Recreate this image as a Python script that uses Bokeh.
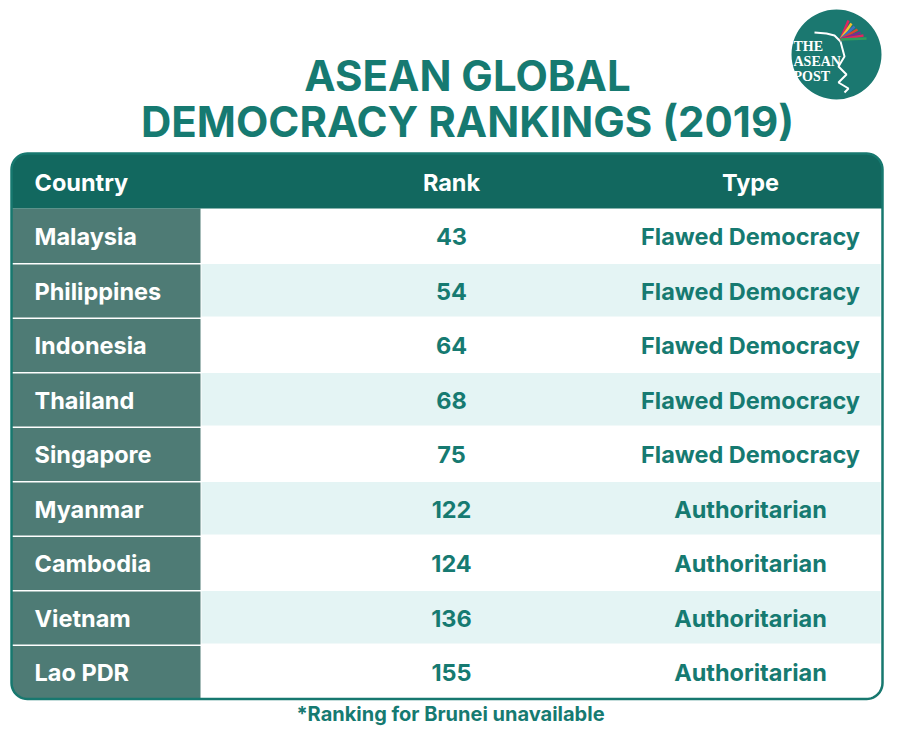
import numpy as np
from bokeh.plotting import figure
from bokeh.models import Range1d
from bokeh.core.properties import value
from bokeh.embed import file_html
from bokeh.resources import INLINE

# ---- data ----
title_lines = ["ASEAN GLOBAL", "DEMOCRACY RANKINGS (2019)"]
headers = ["Country", "Rank", "Type"]
countries = ["Malaysia", "Philippines", "Indonesia", "Thailand", "Singapore",
             "Myanmar", "Cambodia", "Vietnam", "Lao PDR"]
ranks = [43, 54, 64, 68, 75, 122, 124, 136, 155]
types = ["Flawed Democracy", "Flawed Democracy", "Flawed Democracy", "Flawed Democracy",
         "Flawed Democracy", "Authoritarian", "Authoritarian", "Authoritarian", "Authoritarian"]
footnote = "*Ranking for Brunei unavailable"
logo_lines = ["THE", "ASEAN", "POST"]

# ---- style ----
FONT = value("Inter")
DARK = "#12685f"
COUNTRY_BG = "#4e7b75"
TEAL = "#167a71"
LIGHT = "#e4f4f4"
BORDER = "#17786f"

W, H = 884, 730
p = figure(width=W, height=H, output_backend="svg", toolbar_location=None,
           x_range=Range1d(0, W), y_range=Range1d(H, 0), min_border=0)
p.axis.visible = False
p.grid.visible = False
p.outline_line_color = None
p.background_fill_color = "white"
p.border_fill_color = "white"

# table geometry
X0, X1 = 11, 882
TOP, HEAD_H = 153, 55
ROW_H = 54.5
n = len(countries)
BOT = TOP + HEAD_H + n * ROW_H
COL_SPLIT = 200
R = 16


def rounded(x0, x1, y0, y1, r, tl=0, tr=0, br=0, bl=0):
    # y grows downward (inverted range)
    xs, ys = [], []
    def arc(cx, cy, a0, a1, rr):
        t = np.linspace(np.radians(a0), np.radians(a1), 12)
        xs.extend(cx + rr * np.cos(t)); ys.extend(cy + rr * np.sin(t))
    if tl: arc(x0 + r, y0 + r, 180, 270, r)
    else: xs.append(x0); ys.append(y0)
    if tr: arc(x1 - r, y0 + r, 270, 360, r)
    else: xs.append(x1); ys.append(y0)
    if br: arc(x1 - r, y1 - r, 0, 90, r)
    else: xs.append(x1); ys.append(y1)
    if bl: arc(x0 + r, y1 - r, 90, 180, r)
    else: xs.append(x0); ys.append(y1)
    return list(xs), list(ys)

# white table body
bx, by = rounded(X0, X1, TOP, BOT, R, 1, 1, 1, 1)
p.patch(bx, by, fill_color="white", line_color=None)

# striped rows
for i in range(n):
    y0 = TOP + HEAD_H + i * ROW_H
    if i % 2 == 1:
        p.quad(left=COL_SPLIT + 1, right=X1 - 2, top=y0 + 1, bottom=y0 + ROW_H - 1,
               fill_color=LIGHT, line_color=None)

# country column
for i in range(n):
    y0 = TOP + HEAD_H + i * ROW_H
    last = i == n - 1
    cx, cy = rounded(X0, COL_SPLIT, y0 + (1.5 if i > 0 else 0), y0 + ROW_H, R, bl=1 if last else 0)
    p.patch(cx, cy, fill_color=COUNTRY_BG, line_color=None)

# header
hx, hy = rounded(X0, X1, TOP, TOP + HEAD_H, R, tl=1, tr=1)
p.patch(hx, hy, fill_color=DARK, line_color=None)

# border
p.patch(bx, by, fill_color=None, line_color=BORDER, line_width=2.5)

FS = "23.5px"
# header texts
hy_c = TOP + HEAD_H / 2 + 1
p.text(x=[34], y=[hy_c], text=[headers[0]], text_font=FONT, text_font_style="bold",
       text_font_size=FS, text_color="white", text_align="left", text_baseline="middle")
p.text(x=[451, 750], y=[hy_c, hy_c], text=headers[1:], text_font=FONT, text_font_style="bold",
       text_font_size=FS, text_color="white", text_align="center", text_baseline="middle")

# row texts
ys = [TOP + HEAD_H + (i + 0.5) * ROW_H + 1 for i in range(n)]
p.text(x=[34] * n, y=ys, text=countries, text_font=FONT, text_font_style="bold",
       text_font_size=FS, text_color="white", text_align="left", text_baseline="middle")
p.text(x=[451] * n, y=ys, text=[str(r) for r in ranks], text_font=FONT, text_font_style="bold",
       text_font_size=FS, text_color=TEAL, text_align="center", text_baseline="middle")
p.text(x=[750] * n, y=ys, text=types, text_font=FONT, text_font_style="bold",
       text_font_size=FS, text_color=TEAL, text_align="center", text_baseline="middle")

# title
p.text(x=[467, 467], y=[75, 121], text=title_lines, text_font=FONT, text_font_style="bold",
       text_font_size="42px", text_color=TEAL, text_align="center", text_baseline="middle")

# footnote
p.text(x=[450], y=[713], text=[footnote], text_font=FONT, text_font_style="bold",
       text_font_size="20px", text_color=TEAL, text_align="center", text_baseline="middle")

# logo
LX, LY = 836, 54
p.circle(x=[LX], y=[LY], radius=45, fill_color="#1b7870", line_color=None)
p.text(x=[LX - 43] * 3, y=[LY - 8, LY + 7, LY + 22], text=logo_lines,
       text_font=value("Liberation Serif"), text_font_style="bold", text_font_size="14px",
       text_color="white", text_align="left", text_baseline="middle")
# stylised bird
p.line(x=[LX - 22, LX - 10, LX - 2, LX + 4], y=[LY - 22, LY - 21, LY - 19, LY - 13],
       line_color="white", line_width=2)
p.line(x=[LX + 4, LX + 8, LX + 2, LX + 10, LX + 2, LX + 12, LX + 8],
       y=[LY - 13, LY + 2, LY + 12, LY + 20, LY + 28, LY + 34, LY + 38],
       line_color="white", line_width=2)
wing_cols = ["#e0245e", "#f2c12e", "#3a6fc4", "#d9472b", "#7b2d8e", "#e0245e", "#2e9e5b"]
for k, c in enumerate(wing_cols):
    p.line(x=[LX + 4, LX + 12 + k * 3], y=[LY - 15, LY - 34 + k * 3], line_color=c, line_width=2.5)

open("out.html", "w").write(file_html(p, INLINE))
